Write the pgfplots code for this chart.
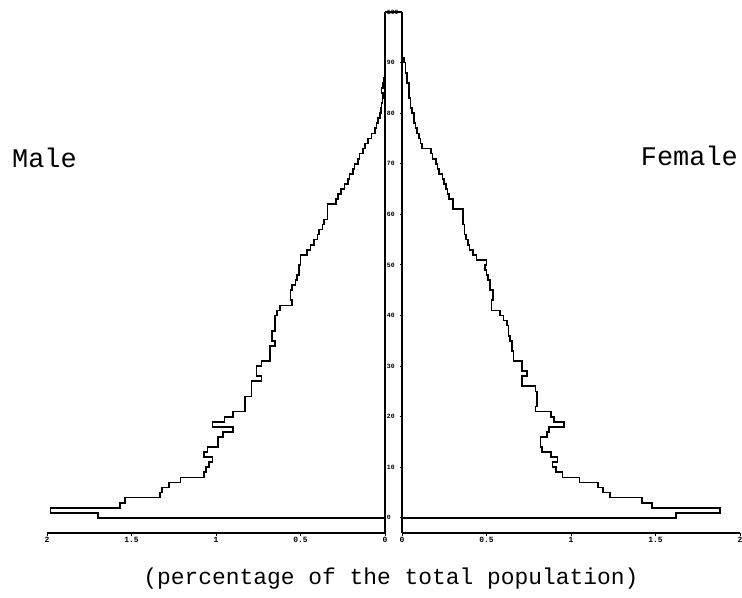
\documentclass[border=0pt]{standalone}
\usepackage{pgfplots}
\pgfplotsset{compat=1.18}
\usepackage{pgfplotstable}
\usepackage{fontspec}
\setmainfont{Liberation Mono}

% age (lower edge of 1-year band) and percentage; sentinel rows close the outline
\pgfplotstableread{
age val
0 0
0 1.70
1 1.98
2 1.57
3 1.54
4 1.33
5 1.32
6 1.28
7 1.21
8 1.07
9 1.06
10 1.04
11 1.02
12 1.07
13 1.05
14 0.99
15 0.99
16 0.96
17 0.90
18 1.02
19 0.95
20 0.90
21 0.83
22 0.83
23 0.83
24 0.79
25 0.79
26 0.79
27 0.73
28 0.76
29 0.76
30 0.73
31 0.68
32 0.68
33 0.68
34 0.65
35 0.67
36 0.67
37 0.65
38 0.65
39 0.65
40 0.64
41 0.62
42 0.55
43 0.56
44 0.56
45 0.55
46 0.53
47 0.52
48 0.51
49 0.51
50 0.50
51 0.50
52 0.46
53 0.44
54 0.42
55 0.40
56 0.39
57 0.37
58 0.36
59 0.34
60 0.34
61 0.34
62 0.29
63 0.28
64 0.26
65 0.24
66 0.22
67 0.21
68 0.19
69 0.18
70 0.16
71 0.15
72 0.13
73 0.12
74 0.10
75 0.08
76 0.06
77 0.05
78 0.04
79 0.03
80 0.025
81 0.02
82 0.015
83 0.01
84 0.02
85 0.01
86 0.005
87 0
}\male

\pgfplotstableread{
age val
0 0
0 1.62
1 1.88
2 1.48
3 1.42
4 1.23
5 1.19
6 1.16
7 1.05
8 0.95
9 0.91
10 0.89
11 0.92
12 0.88
13 0.83
14 0.82
15 0.82
16 0.86
17 0.87
18 0.96
19 0.90
20 0.88
21 0.79
22 0.80
23 0.80
24 0.80
25 0.79
26 0.71
27 0.71
28 0.74
29 0.71
30 0.71
31 0.66
32 0.66
33 0.65
34 0.65
35 0.64
36 0.63
37 0.63
38 0.62
39 0.60
40 0.58
41 0.53
42 0.53
43 0.54
44 0.54
45 0.52
46 0.52
47 0.51
48 0.50
49 0.49
50 0.50
51 0.44
52 0.42
53 0.40
54 0.39
55 0.38
56 0.37
57 0.37
58 0.36
59 0.36
60 0.36
61 0.30
62 0.30
63 0.28
64 0.27
65 0.26
66 0.25
67 0.24
68 0.22
69 0.21
70 0.20
71 0.18
72 0.17
73 0.12
74 0.11
75 0.10
76 0.09
77 0.08
78 0.07
79 0.07
80 0.06
81 0.05
82 0.05
83 0.04
84 0.04
85 0.04
86 0.03
87 0.03
88 0.02
89 0.02
90 0.01
91 0
}\female

\pgfplotsset{
  pyr/.style={
    anchor=south west, scale only axis,
    width=338bp, height=521bp,
    xmin=0, xmax=2, ymin=-3, ymax=100,
    axis x line*=bottom,
    axis line style={-, line width=1.4bp, black},
    xtick={0,0.5,1,1.5,2},
    ytick=\empty,
    major tick length=3bp,
    tick style={black, line width=0.9bp},
    tick align=outside,
    xticklabel style={font=\bfseries\fontsize{8}{9}\selectfont, inner sep=1bp},
    /pgf/number format/assume math mode=true,
    clip=false,
  },
  curve/.style={black, line width=1.7bp, const plot mark right, no marks},
}

\begin{document}
\begin{tikzpicture}
\useasboundingbox (0,0) rectangle (742bp,598bp);

% Male (left, reversed)
\begin{axis}[pyr, at={(47bp,65bp)}, x dir=reverse, axis y line*=right]
  \addplot[curve] table[x=val, y=age] {\male};
\end{axis}

% Central age strip
\begin{axis}[at={(385bp,65bp)}, anchor=south west, scale only axis,
  width=17bp, height=521bp, xmin=0, xmax=1, ymin=-3, ymax=100,
  axis x line*=top, axis y line*=box,
  axis line style={-, line width=1.4bp, black},
  xtick=\empty, ytick={0,10,...,100},
  ytick pos=right, yticklabel pos=left, tick align=inside,
  major tick length=2.5bp, tick style={black, line width=0.9bp},
  yticklabel style={font=\bfseries\fontsize{6.5}{7}\selectfont, anchor=west, inner sep=0.5bp, xshift=1.2bp},
  /pgf/number format/assume math mode=true]
\end{axis}

% Female (right)
\begin{axis}[pyr, at={(402bp,65bp)}, axis y line*=left]
  \addplot[curve] table[x=val, y=age] {\female};
\end{axis}

\node[anchor=base west, font=\fontsize{27}{30}\selectfont, inner sep=0] at (12bp,430bp) {Male};
\node[anchor=base east, font=\fontsize{27}{30}\selectfont, inner sep=0] at (738bp,432bp) {Female};
\node[anchor=base, font=\fontsize{23}{26}\selectfont, inner sep=0] at (391bp,14bp) {(percentage of the total population)};
\end{tikzpicture}
\end{document}
